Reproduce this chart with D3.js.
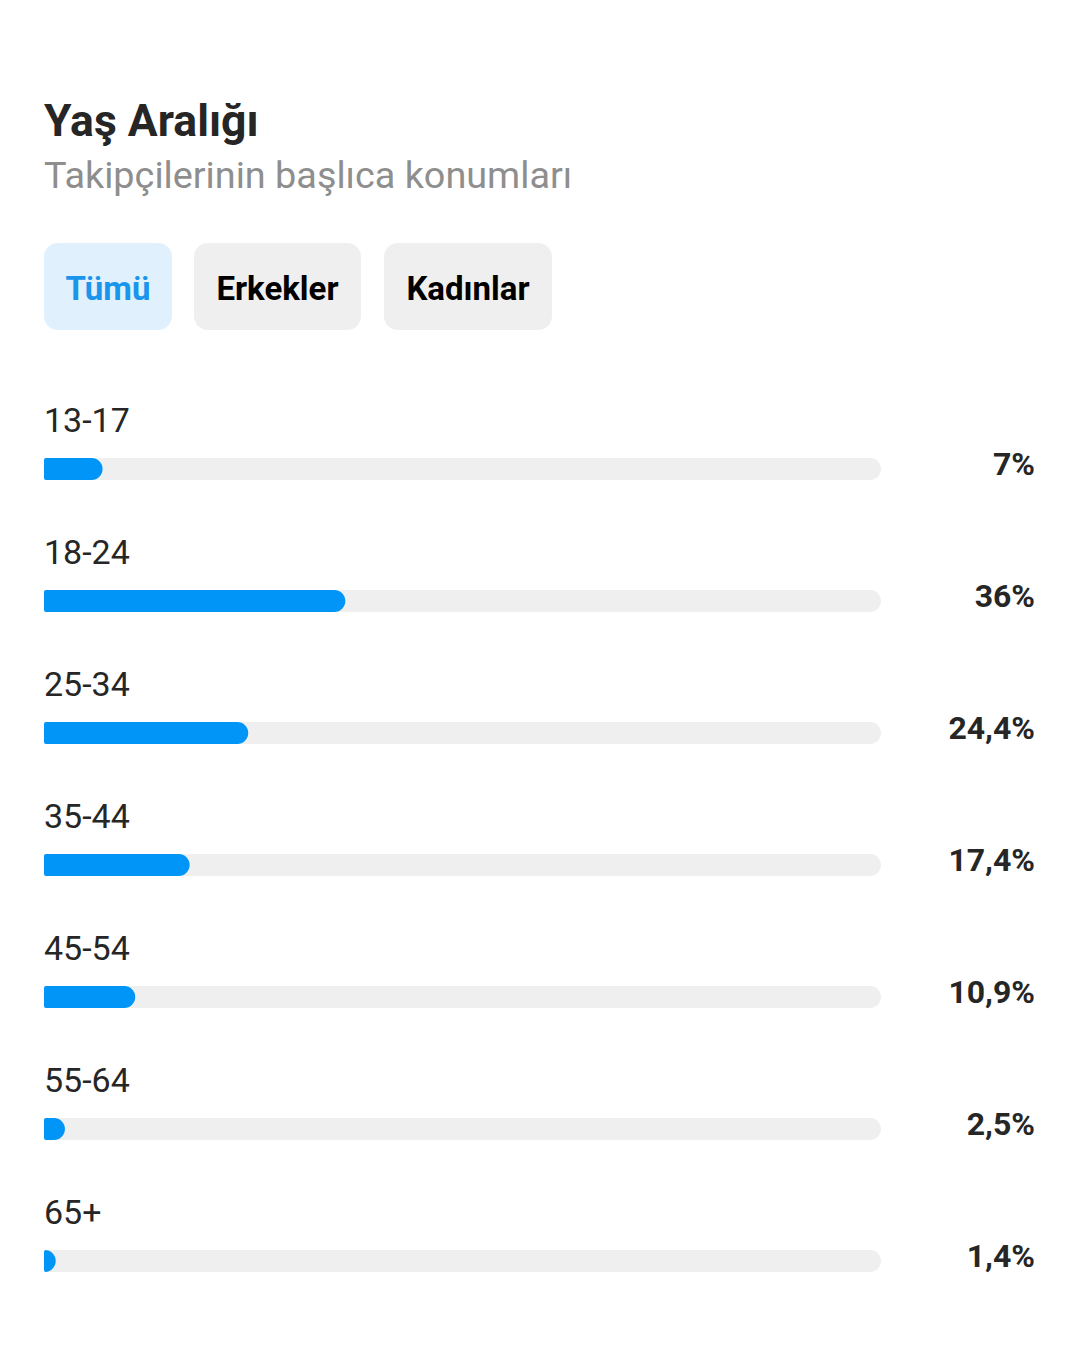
<!DOCTYPE html>
<html><head><meta charset="utf-8">
<script src="https://cdn.jsdelivr.net/npm/d3@7"></script>
<style>
html,body{margin:0;padding:0;background:#fff;}
svg{display:block;font-family:Roboto,"Noto Sans",sans-serif;}
</style></head>
<body>
<svg id="chart" width="1080" height="1363"></svg>
<script>
const title = "Yaş Aralığı";
const subtitle = "Takipçilerinin başlıca konumları";
const tabs = ["Tümü", "Erkekler", "Kadınlar"];
const categories = ["13-17", "18-24", "25-34", "35-44", "45-54", "55-64", "65+"];
const values = [7, 36, 24.4, 17.4, 10.9, 2.5, 1.4];
const valueLabels = ["7%", "36%", "24,4%", "17,4%", "10,9%", "2,5%", "1,4%"];

const svg = d3.select("#chart");
const trackX0 = 44, trackX1 = 881, barH = 22;

svg.append("text").attr("x", 44).attr("y", 136)
  .attr("font-size", 44.5).attr("font-weight", 700).attr("fill", "#262626").text(title);
svg.append("text").attr("x", 44).attr("y", 188)
  .attr("font-size", 37.8).attr("fill", "#8e8e8e").text(subtitle);

// tabs
const tabX = [44, 194, 384], tabW = [128, 167, 168];
const tg = svg.selectAll("g.tab").data(tabs).join("g").attr("class", "tab")
  .attr("transform", (d, i) => `translate(${tabX[i]},243)`);
tg.append("rect").attr("width", (d, i) => tabW[i]).attr("height", 87).attr("rx", 14)
  .attr("fill", (d, i) => i === 0 ? "#e0f1fd" : "#efefef");
tg.append("text").attr("x", (d, i) => tabW[i] / 2).attr("y", 57).attr("text-anchor", "middle")
  .attr("font-size", 33).attr("font-weight", 700)
  .attr("fill", (d, i) => i === 0 ? "#1a95ec" : "#000").text(d => d);

const x = d3.scaleLinear().domain([0, 100]).range([trackX0, trackX1]);
const y = d3.scaleBand().domain(categories).range([458, 458 + 132 * categories.length]).paddingInner(0);

function barPath(x0, y0, w, h, rl, rr) {
  rr = Math.min(rr, h / 2, w);
  rl = Math.min(rl, w - rr > 0 ? rl : 0);
  const p = d3.path();
  p.moveTo(x0 + rl, y0);
  p.lineTo(x0 + w - rr, y0);
  p.arcTo(x0 + w, y0, x0 + w, y0 + rr, rr);
  p.lineTo(x0 + w, y0 + h - rr);
  p.arcTo(x0 + w, y0 + h, x0 + w - rr, y0 + h, rr);
  p.lineTo(x0 + rl, y0 + h);
  if (rl > 0) p.arcTo(x0, y0 + h, x0, y0 + h - rl, rl); else p.lineTo(x0, y0 + h);
  p.lineTo(x0, y0 + rl);
  if (rl > 0) p.arcTo(x0, y0, x0 + rl, y0, rl);
  p.closePath();
  return p.toString();
}

const rows = svg.selectAll("g.row").data(categories).join("g").attr("class", "row")
  .attr("transform", d => `translate(0,${y(d)})`);

rows.append("text").attr("x", 44).attr("y", -26).attr("font-size", 34)
  .attr("fill", "#262626").text(d => d);

rows.append("path").attr("fill", "#efefef")
  .attr("d", () => barPath(x(0), 0, x(100) - x(0), barH, 3, 11));

rows.append("path").attr("fill", "#0095f6")
  .attr("d", (d, i) => barPath(x(0), 0, x(values[i]) - x(0), barH, 2, 11));

rows.append("text").attr("x", 1035).attr("y", 17).attr("text-anchor", "end")
  .attr("font-size", 32).attr("font-weight", 700).attr("fill", "#262626")
  .text((d, i) => valueLabels[i]);
</script>
</body></html>
